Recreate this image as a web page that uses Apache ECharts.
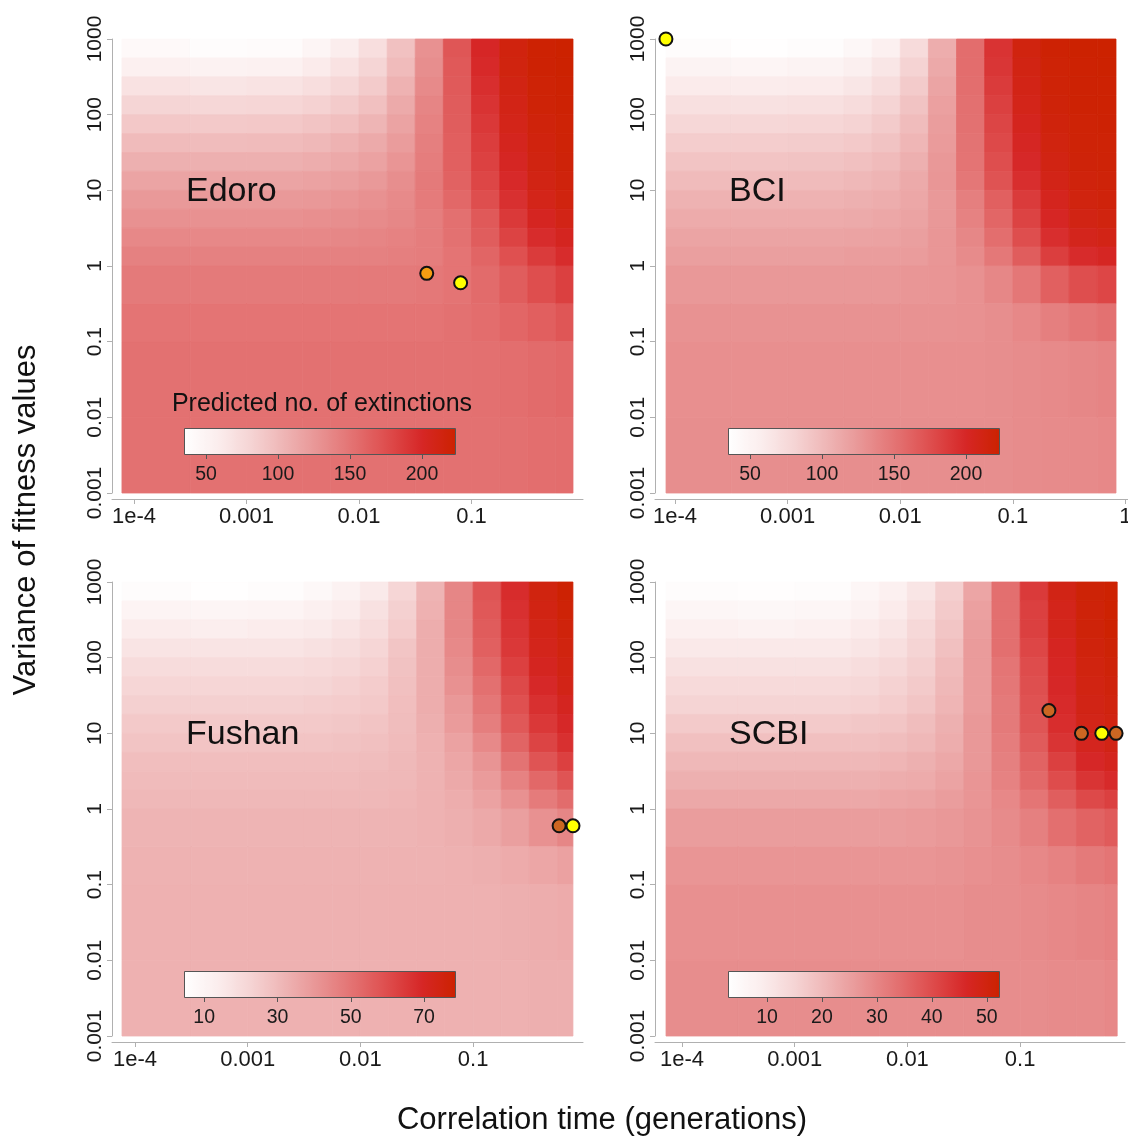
<!DOCTYPE html>
<html><head><meta charset="utf-8">
<script src="https://cdn.jsdelivr.net/npm/echarts@6/dist/echarts.min.js"></script>
<style>html,body{margin:0;padding:0;background:#fff}#c{width:1128px;height:1137px}</style>
</head><body><div id="c"></div>
<script>
// ---------------- data ----------------
const xTickValues = [1e-4, 1e-3, 1e-2, 1e-1, 1];
const xTickLabels = ['1e-4', '0.001', '0.01', '0.1', '1'];
const yTickValues = [0.001, 0.01, 0.1, 1, 10, 100, 1000];
const yTickLabels = ['0.001', '0.01', '0.1', '1', '10', '100', '1000'];

// cell edges (correlation time, inner edges) and variance edges (bottom -> top)
const xEdgesInner = [3.16e-4, 1e-3, 3.16e-3, 5.62e-3, 0.01, 0.0178, 0.0316, 0.0562, 0.1, 0.178, 0.316, 0.562];
const yEdges = [0.001, 0.01, 0.1, 0.316, 1, 1.78, 3.16, 5.62, 10, 17.8, 31.6, 56.2, 100, 178, 316, 562, 1000];

// predicted no. of extinctions, rows listed top (variance 1000) -> bottom (0.001)
const edoroZ = [
  [42, 38, 40, 48, 58, 72, 95, 130, 170, 200, 215, 222, 224],
  [55, 52, 53, 60, 68, 80, 100, 132, 168, 198, 214, 221, 223],
  [68, 66, 67, 72, 78, 88, 106, 135, 167, 195, 212, 220, 222],
  [80, 78, 79, 83, 88, 96, 112, 138, 166, 192, 210, 219, 221],
  [90, 89, 90, 93, 97, 104, 117, 140, 165, 189, 208, 217, 220],
  [100, 99, 100, 102, 106, 112, 122, 142, 164, 186, 205, 215, 219],
  [108, 108, 108, 110, 113, 118, 127, 144, 163, 183, 202, 213, 218],
  [116, 116, 116, 118, 120, 124, 132, 146, 162, 180, 198, 211, 216],
  [124, 124, 124, 125, 127, 130, 135, 145, 158, 175, 194, 208, 214],
  [130, 130, 130, 131, 132, 134, 137, 143, 153, 168, 188, 203, 210],
  [136, 136, 136, 136, 137, 138, 140, 144, 152, 165, 182, 196, 204],
  [141, 141, 141, 141, 141, 141, 142, 144, 150, 160, 174, 187, 196],
  [146, 146, 146, 146, 146, 146, 146, 147, 150, 156, 165, 175, 184],
  [150, 150, 150, 150, 150, 150, 150, 150, 152, 155, 159, 164, 170],
  [152, 152, 152, 152, 152, 152, 152, 152, 152, 153, 154, 156, 158],
  [152, 152, 152, 152, 152, 152, 152, 152, 152, 152, 153, 154, 155]
];
const bciZ = [
  [38, 36, 38, 45, 55, 75, 110, 155, 192, 214, 221, 223, 224],
  [50, 48, 50, 56, 65, 82, 113, 155, 190, 212, 220, 222, 223],
  [60, 59, 60, 65, 73, 88, 116, 154, 187, 210, 219, 221, 222],
  [70, 69, 70, 74, 81, 94, 119, 153, 184, 208, 218, 221, 222],
  [78, 78, 79, 82, 88, 99, 121, 152, 181, 205, 216, 220, 221],
  [86, 86, 87, 89, 94, 103, 123, 151, 178, 202, 214, 219, 220],
  [93, 93, 94, 96, 100, 108, 125, 150, 175, 199, 212, 218, 219],
  [100, 100, 100, 102, 105, 112, 126, 148, 172, 195, 209, 216, 218],
  [106, 106, 106, 108, 110, 114, 124, 142, 163, 187, 205, 214, 217],
  [111, 111, 111, 112, 114, 117, 125, 140, 159, 182, 201, 211, 214],
  [116, 116, 116, 117, 118, 120, 126, 137, 154, 175, 195, 206, 210],
  [120, 120, 120, 121, 121, 122, 126, 134, 147, 165, 185, 197, 202],
  [125, 125, 125, 125, 125, 126, 127, 130, 137, 148, 163, 175, 180],
  [129, 129, 129, 129, 129, 129, 129, 130, 132, 136, 142, 148, 152],
  [131, 131, 131, 131, 131, 131, 131, 131, 132, 133, 135, 137, 139],
  [132, 132, 132, 132, 132, 132, 132, 132, 132, 133, 134, 135, 136]
];
const fushanZ = [
  [6, 5, 6, 8, 11, 15, 22, 32, 45, 58, 68, 75, 78],
  [10, 9.5, 10, 12, 14, 18, 24, 33, 45, 57, 67, 74, 77],
  [14, 13.5, 14, 15, 17, 20, 25, 34, 45, 56, 66, 73, 76],
  [17, 17, 17, 18, 19.5, 22, 27, 34, 44, 55, 65, 72, 75],
  [20, 20, 20, 20.5, 21.5, 23.5, 28, 34, 43, 53, 63, 71, 74],
  [22, 22, 22, 22.5, 23.5, 25, 28.5, 34, 42, 51, 61, 69, 73],
  [24, 24, 24, 24.5, 25, 26, 29, 34, 40, 49, 59, 67, 71],
  [26, 26, 26, 26, 26.5, 27.5, 29.5, 33.5, 39, 47, 57, 65, 69],
  [27.5, 27.5, 27.5, 27.5, 28, 28.5, 30, 33, 37, 44, 54, 62, 67],
  [29, 29, 29, 29, 29, 29.5, 30.5, 32.5, 36, 41, 50, 58, 63],
  [30, 30, 30, 30, 30, 30.5, 31, 32.5, 35, 39, 46, 53, 58],
  [31, 31, 31, 31, 31, 31, 31.5, 32.5, 34, 37, 42, 48, 52],
  [32, 32, 32, 32, 32, 32, 32, 32.5, 33.5, 35, 38, 42, 45],
  [32.5, 32.5, 32.5, 32.5, 32.5, 32.5, 32.5, 32.5, 33, 33.5, 34.5, 36, 37.5],
  [33, 33, 33, 33, 33, 33, 33, 33, 33, 33, 33.5, 34, 34.5],
  [33, 33, 33, 33, 33, 33, 33, 33, 33, 33, 33, 33.5, 33.5]
];
const scbiZ = [
  [4, 3.5, 4, 6, 8, 11, 16, 24, 34, 43, 49, 51.5, 52],
  [6, 5.5, 6, 7.5, 9.5, 12.5, 17, 25, 34, 42, 48, 51, 52],
  [8, 7.5, 8, 9.5, 11, 14, 18, 25.5, 34, 42, 48, 51, 52],
  [10, 10, 10, 11, 12.5, 15, 19, 26, 34, 41, 47, 50.5, 51.5],
  [12, 12, 12, 13, 14, 16, 20, 26, 33, 40, 46.5, 50, 51],
  [13.5, 13.5, 13.5, 14, 15.5, 17, 20.5, 26, 32.5, 39.5, 46, 49.5, 50.5],
  [15, 15, 15, 15.5, 16.5, 18, 21, 26, 32, 39, 45.5, 49, 50],
  [17, 17, 17, 17.5, 18, 19.5, 22, 26.5, 32, 38.5, 45, 48.5, 49.5],
  [19, 19, 19, 19, 19.5, 20.5, 22.5, 26.5, 31.5, 37.5, 44, 47.5, 49],
  [20.5, 20.5, 20.5, 20.5, 21, 22, 23.5, 26.5, 31, 36, 42, 46, 47.5],
  [22, 22, 22, 22, 22.5, 23, 24.5, 27, 30.5, 35, 40, 44, 45.5],
  [23.5, 23.5, 23.5, 23.5, 24, 24.5, 25.5, 27, 29.5, 33, 37, 40.5, 42],
  [25.5, 25.5, 25.5, 25.5, 25.5, 26, 26.5, 27.5, 29, 31, 34, 36, 37.5],
  [27, 27, 27, 27, 27, 27, 27.5, 28, 28.5, 29.5, 30.5, 32, 33],
  [28, 28, 28, 28, 28, 28, 28, 28.5, 28.5, 29, 29.5, 30, 30.5],
  [28.5, 28.5, 28.5, 28.5, 28.5, 28.5, 28.5, 28.5, 28.5, 28.5, 29, 29, 29.5]
];

// observed / estimated parameter points [correlation time, variance]
const edoroYellow = [[0.08, 0.6]];
const edoroOrange = [[0.04, 0.8]];
const bciYellow = [[8.3e-5, 1000]];
const fushanYellow = [[0.77, 0.6]];
const fushanBrown = [[0.58, 0.6]];
const scbiYellow = [[0.53, 10]];
const scbiBrown = [[0.18, 20], [0.35, 10], [0.71, 10]];

// colour-bar ranges and tick labels
const legendRangeEdoro = [34.7, 223.6];
const legendRangeBci = [34.7, 223.6];
const legendRangeFushan = [4.5, 78.7];
const legendRangeScbi = [2.9, 52.4];
const legendTicksEdoro = [50, 100, 150, 200];
const legendTicksBci = [50, 100, 150, 200];
const legendTicksFushan = [10, 30, 50, 70];
const legendTicksScbi = [10, 20, 30, 40, 50];

const panelNames = ['Edoro', 'BCI', 'Fushan', 'SCBI'];
const legendTitle = 'Predicted no. of extinctions';
const xTitle = 'Correlation time (generations)';
const yTitle = 'Variance of fitness values';

// ---------------- layout ----------------
const FONT = '"Liberation Sans", Arial, Helvetica, sans-serif';
const RAMP = ['#ffffff', '#fbeded', '#f5d3d3', '#eeb3b3', '#e89292', '#e37070', '#de4c4c', '#d62626', '#cc2200'];
const panels = [
  {z: edoroZ, left: 112, top: 39, w: 471, xMinLog: -4.1956, xMaxLog: -0.009, loLog: -4.107, hiLog: -0.098,
   range: legendRangeEdoro, ticks: legendTicksEdoro, cbLeft: 184, cbTop: 428, labelX: 186, labelY: 192},
  {z: bciZ, left: 655, top: 39, w: 473, xMinLog: -4.178, xMaxLog: 0.0227, loLog: -4.08, hiLog: -0.084,
   range: legendRangeBci, ticks: legendTicksBci, cbLeft: 728, cbTop: 428, labelX: 729, labelY: 192},
  {z: fushanZ, left: 112, top: 582, w: 471, xMinLog: -4.204, xMaxLog: -0.0247, loLog: -4.115, hiLog: -0.114,
   range: legendRangeFushan, ticks: legendTicksFushan, cbLeft: 184, cbTop: 971, labelX: 186, labelY: 735},
  {z: scbiZ, left: 655, top: 582, w: 470, xMinLog: -4.24, xMaxLog: -0.0696, loLog: -4.142, hiLog: -0.139,
   range: legendRangeScbi, ticks: legendTicksScbi, cbLeft: 728, cbTop: 971, labelX: 729, labelY: 735}
];
const PLOT_H = 454;
const CB_W = 272, CB_H = 27;

function cells(z, lo, hi) {
  const xe = [lo].concat(xEdgesInner, [hi]);
  const n = yEdges.length - 1;
  const out = [];
  z.forEach((row, i) => {
    const y0 = yEdges[n - 1 - i], y1 = yEdges[n - i];
    row.forEach((v, j) => out.push([xe[j], xe[j + 1], y0, y1, v]));
  });
  return out;
}
function renderCell(params, api) {
  const a = api.coord([api.value(0), api.value(3)]);
  const b = api.coord([api.value(1), api.value(2)]);
  const c = api.visual('color');
  return {type: 'rect', shape: {x: a[0], y: a[1], width: b[0] - a[0], height: b[1] - a[1]},
          style: {fill: c, stroke: c, lineWidth: 0.8}};
}
function nearestLabel(vals, labels, v) {
  let best = 0, bd = Infinity;
  vals.forEach((t, i) => { const d = Math.abs(Math.log10(t) - Math.log10(v)); if (d < bd) { bd = d; best = i; } });
  return labels[best];
}

const grid = [], xAxis = [], yAxis = [], series = [], visualMap = [], graphic = [];
const axisGray = '#b0b0b0';

panels.forEach((p, i) => {
  grid.push({left: p.left, top: p.top, width: p.w, height: PLOT_H, outerBoundsMode: 'none', containLabel: false});
  const xMin = Math.pow(10, p.xMinLog), xMax = Math.pow(10, p.xMaxLog);
  const xt = xTickValues.filter(v => v >= xMin && v <= xMax);
  xAxis.push({type: 'log', logBase: 10, gridIndex: i, min: xMin, max: xMax, offset: 6,
    axisLine: {onZero: false, lineStyle: {color: axisGray, width: 1}},
    axisTick: {customValues: xt, length: 5, lineStyle: {color: axisGray}},
    axisLabel: {customValues: xt, fontSize: 22, fontFamily: FONT, color: '#1a1a1a', margin: 7,
      formatter: v => nearestLabel(xTickValues, xTickLabels, v)},
    splitLine: {show: false}});
  yAxis.push({type: 'log', logBase: 10, gridIndex: i, min: 0.001, max: 1000,
    axisLine: {onZero: false, lineStyle: {color: axisGray, width: 1}},
    axisTick: {customValues: yTickValues, length: 5, lineStyle: {color: axisGray}},
    axisLabel: {customValues: yTickValues, rotate: 90, fontSize: 21, fontFamily: FONT, color: '#1a1a1a', margin: 6,
      formatter: v => nearestLabel(yTickValues, yTickLabels, v)},
    splitLine: {show: false}});
  series.push({type: 'custom', xAxisIndex: i, yAxisIndex: i, renderItem: renderCell,
    dimensions: ['x0', 'x1', 'y0', 'y1', 'n'], encode: {x: [0, 1], y: [2, 3]},
    data: cells(p.z, Math.pow(10, p.loLog), Math.pow(10, p.hiLog)), silent: true, clip: false, z: 1});
  visualMap.push({type: 'continuous', seriesIndex: i, dimension: 4, min: p.range[0], max: p.range[1],
    orient: 'horizontal', left: p.cbLeft, top: p.cbTop, itemWidth: CB_H, itemHeight: CB_W,
    calculable: false, hoverLink: false, padding: 0, text: null, inRange: {color: RAMP}, z: 20});
  graphic.push({type: 'rect', z: 100, shape: {x: p.cbLeft + 0.5, y: p.cbTop + 0.5, width: CB_W - 1, height: CB_H - 1},
    style: {fill: 'none', stroke: '#555', lineWidth: 1}});
  graphic.push({type: 'text', z: 100, x: p.labelX, y: p.labelY,
    style: {text: panelNames[i], font: '34px ' + FONT, fill: '#111', textAlign: 'left', textVerticalAlign: 'middle', align: 'left', verticalAlign: 'middle'}});
});

// colour-bar tick axes
panels.forEach((p, i) => {
  const gi = 4 + i;
  grid.push({left: p.cbLeft, top: p.cbTop, width: CB_W, height: CB_H, outerBoundsMode: 'none', containLabel: false});
  xAxis.push({type: 'value', gridIndex: gi, min: p.range[0], max: p.range[1], position: 'bottom',
    axisLine: {show: false, onZero: false},
    axisTick: {show: true, customValues: p.ticks, length: 4, lineStyle: {color: '#555'}},
    axisLabel: {show: true, customValues: p.ticks, fontSize: 19.5, fontFamily: FONT, color: '#1a1a1a', margin: 10},
    splitLine: {show: false}, z: 30});
  yAxis.push({type: 'value', gridIndex: gi, min: 0, max: 1, show: false});
});

function pts(data, idx, color) {
  series.push({type: 'scatter', xAxisIndex: idx, yAxisIndex: idx, data: data, symbol: 'circle', symbolSize: 13,
    clip: false, z: 10, itemStyle: {color: color, borderColor: '#111', borderWidth: 2, opacity: 1}});
}
const YELLOW = '#ffff00', ORANGE = '#f39c12', BROWN = '#cc6622';
pts(edoroOrange, 0, ORANGE);
pts(edoroYellow, 0, YELLOW);
pts(bciYellow, 1, YELLOW);
pts(fushanBrown, 2, BROWN);
pts(fushanYellow, 2, YELLOW);
pts(scbiBrown, 3, BROWN);
pts(scbiYellow, 3, YELLOW);

graphic.push({type: 'text', z: 100, x: 322, y: 404,
  style: {text: legendTitle, font: '25px ' + FONT, fill: '#111', textAlign: 'center', textVerticalAlign: 'middle', align: 'center', verticalAlign: 'middle'}});
graphic.push({type: 'text', z: 100, x: 602, y: 1120,
  style: {text: xTitle, font: '31px ' + FONT, fill: '#111', textAlign: 'center', textVerticalAlign: 'middle', align: 'center', verticalAlign: 'middle'}});
graphic.push({type: 'text', z: 100, x: 26, y: 520, rotation: Math.PI / 2,
  style: {text: yTitle, font: '31px ' + FONT, fill: '#111', textAlign: 'center', textVerticalAlign: 'middle', align: 'center', verticalAlign: 'middle'}});

const chart = echarts.init(document.getElementById('c'), null, {renderer: 'canvas'});
chart.setOption({animation: false, backgroundColor: '#ffffff', grid, xAxis, yAxis, series, visualMap, graphic});
</script>
</body></html>
